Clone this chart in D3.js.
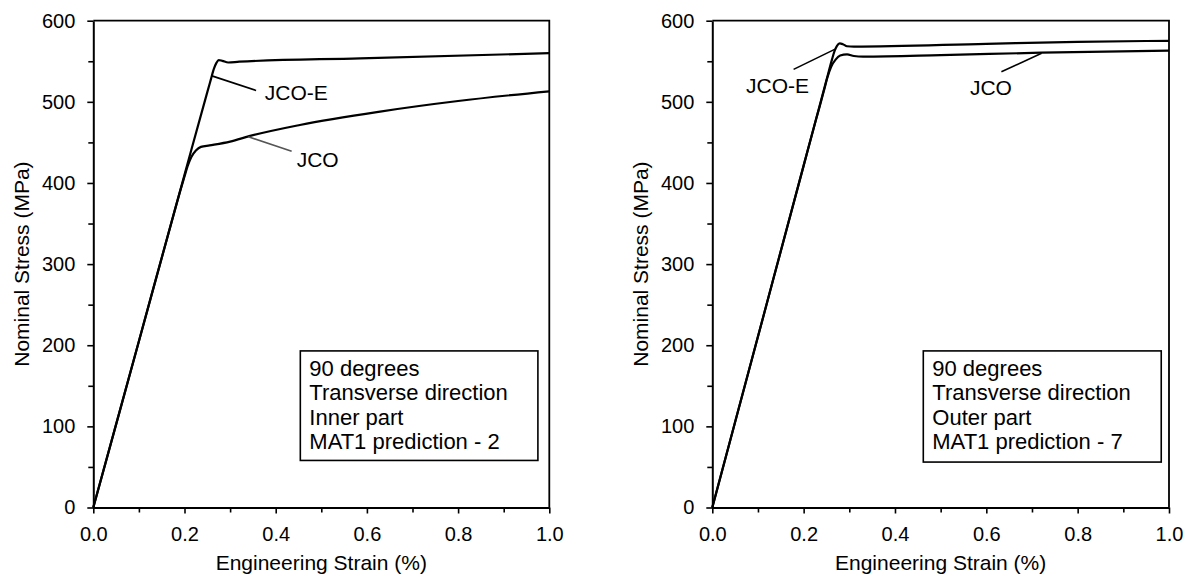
<!DOCTYPE html>
<html>
<head>
<meta charset="utf-8">
<script src="https://cdn.jsdelivr.net/npm/d3@7"></script>
<style>
  body { margin: 0; background: #fff; }
  text { font-family: Arial, "Liberation Sans", sans-serif; fill: #000; }
</style>
</head>
<body>
<div id="chart"></div>
<script>
// Data
// =================================
var innerJcoE = [[0, 0], [0.1, 205], [0.2, 410], [0.25, 512], [0.258, 528], [0.264, 540],
  [0.27, 548], [0.275, 551.5], [0.283, 550.5], [0.296, 548.5], [0.32, 549.5], [0.585, 553.6],
  [1.0, 560]];
var innerJco = [[0, 0], [0.1, 205], [0.18, 369], [0.19, 389], [0.2, 408], [0.207, 421],
  [0.215, 432], [0.225, 440], [0.236, 444.5], [0.255, 446.3], [0.3, 451], [0.344, 458],
  [0.453, 471.5], [0.629, 488], [0.8, 501], [1.0, 513]];
var outerJcoE = [[0, 0], [0.1, 210.7], [0.2, 421.4], [0.25, 526.8], [0.262, 552], [0.268, 563],
  [0.273, 569], [0.279, 572], [0.286, 571], [0.295, 568.5], [0.31, 568], [0.6, 571.5],
  [0.8, 574], [1.0, 575.2]];
var outerJco = [[0, 0], [0.1, 210.7], [0.2, 421.4], [0.228, 480], [0.235, 494], [0.245, 515],
  [0.252, 530], [0.26, 543], [0.27, 552], [0.28, 557], [0.295, 558.6], [0.31, 556.5],
  [0.33, 555.7], [0.5, 557.5], [0.72, 560.6], [1.0, 563]];

var xMajorTicks = [0, 0.2, 0.4, 0.6, 0.8, 1.0];
var xMinorTicks = [0.1, 0.3, 0.5, 0.7, 0.9];
var yMajorTicks = [0, 100, 200, 300, 400, 500, 600];
var yMinorTicks = [50, 150, 250, 350, 450, 550];

var innerNotes = ["90 degrees", "Transverse direction", "Inner part", "MAT1 prediction - 2"];
var outerNotes = ["90 degrees", "Transverse direction", "Outer part", "MAT1 prediction - 7"];

// Step 1: SVG
// =================================
var svgWidth = 1195;
var svgHeight = 579;

var svg = d3.select("#chart")
  .append("svg")
  .attr("width", svgWidth)
  .attr("height", svgHeight);

var panels = [
  {
    left: 93.3, right: 549.3,
    curves: [innerJcoE, innerJco],
    labels: [
      {text: "JCO-E", x: 0.376, y: 502, from: [0.260, 532], to: [0.357, 514]},
      {text: "JCO", x: 0.446, y: 420, from: [0.34, 457], to: [0.435, 439]}
    ],
    leaderColor: ["#000", "#555"],
    notes: innerNotes,
    box: {x0: 0.454, x1: 0.975, y0: 193, y1: 58}
  },
  {
    left: 712.3, right: 1169,
    curves: [outerJcoE, outerJco],
    labels: [
      {text: "JCO-E", x: 0.074, y: 511, from: [0.178, 540], to: [0.269, 565]},
      {text: "JCO", x: 0.564, y: 508, from: [0.633, 537], to: [0.721, 560]}
    ],
    leaderColor: ["#000", "#000"],
    notes: outerNotes,
    box: {x0: 0.462, x1: 0.983, y0: 193, y1: 56}
  }
];

var yTop = 20.7;
var yBottom = 507.5;

panels.forEach(function(p) {
  // Step 2: Scales
  // =================================
  var xScale = d3.scaleLinear().domain([0, 1]).range([p.left, p.right]);
  var yScale = d3.scaleLinear().domain([0, 600]).range([yBottom, yTop]);

  var g = svg.append("g");

  // frame (top and right edges)
  g.append("path")
    .attr("d", `M${xScale(0)},${yScale(600)}H${xScale(1)}V${yScale(0)}`)
    .attr("fill", "none")
    .attr("stroke", "#000")
    .attr("stroke-width", 1.8);

  // Step 3: Axes
  // =================================
  g.append("g")
    .attr("transform", `translate(0, ${yScale(0)})`)
    .call(d3.axisBottom(xScale).tickValues(xMinorTicks).tickSize(5).tickFormat(""))
    .call(s => s.select(".domain").remove());
  g.append("g")
    .attr("transform", `translate(0, ${yScale(0)})`)
    .call(d3.axisBottom(xScale).tickValues(xMajorTicks).tickSize(6).tickSizeOuter(0)
      .tickPadding(13).tickFormat(d3.format(".1f")));

  g.append("g")
    .attr("transform", `translate(${xScale(0)}, 0)`)
    .call(d3.axisLeft(yScale).tickValues(yMinorTicks).tickSize(5).tickFormat(""))
    .call(s => s.select(".domain").remove());
  g.append("g")
    .attr("transform", `translate(${xScale(0)}, 0)`)
    .call(d3.axisLeft(yScale).tickValues(yMajorTicks).tickSize(6).tickSizeOuter(0)
      .tickPadding(12).tickFormat(d3.format("d")));

  g.selectAll(".domain").attr("stroke-width", 2);
  g.selectAll(".tick line").attr("stroke-width", 1.6);
  g.selectAll(".tick text").attr("font-size", "20px").style("font-family", "Arial, 'Liberation Sans', sans-serif");

  // axis titles
  g.append("text")
    .attr("x", (xScale(0) + xScale(1)) / 2)
    .attr("y", 570)
    .attr("text-anchor", "middle")
    .attr("font-size", "21px")
    .text("Engineering Strain (%)");

  g.append("text")
    .attr("transform", `translate(${xScale(0) - 64}, ${(yTop + yBottom) / 2}) rotate(-90)`)
    .attr("text-anchor", "middle")
    .attr("font-size", "21px")
    .text("Nominal Stress (MPa)");

  // Step 4: Curves
  // =================================
  var line = d3.line()
    .x(d => xScale(d[0]))
    .y(d => yScale(d[1]))
    .curve(d3.curveMonotoneX);

  g.selectAll(".curve")
    .data(p.curves)
    .enter()
    .append("path")
    .attr("class", "curve")
    .attr("d", line)
    .attr("fill", "none")
    .attr("stroke", "#000")
    .attr("stroke-width", 2.2);

  // Step 5: Curve labels with leader lines
  // =================================
  p.labels.forEach(function(l, i) {
    g.append("line")
      .attr("x1", xScale(l.from[0])).attr("y1", yScale(l.from[1]))
      .attr("x2", xScale(l.to[0])).attr("y2", yScale(l.to[1]))
      .attr("stroke", p.leaderColor[i])
      .attr("stroke-width", 1.6);
    g.append("text")
      .attr("x", xScale(l.x))
      .attr("y", yScale(l.y))
      .attr("font-size", "21px")
      .text(l.text);
  });

  // Step 6: Note box
  // =================================
  var bx0 = xScale(p.box.x0), bx1 = xScale(p.box.x1);
  var by0 = yScale(p.box.y0), by1 = yScale(p.box.y1);
  g.append("rect")
    .attr("x", bx0).attr("y", by0)
    .attr("width", bx1 - bx0).attr("height", by1 - by0)
    .attr("fill", "#fff")
    .attr("stroke", "#000")
    .attr("stroke-width", 1.6);

  g.selectAll(".note")
    .data(p.notes)
    .enter()
    .append("text")
    .attr("class", "note")
    .attr("x", bx0 + 9)
    .attr("y", (d, i) => by0 + 25 + i * 24.4)
    .attr("font-size", "22px")
    .text(d => d);
});
</script>
</body>
</html>
